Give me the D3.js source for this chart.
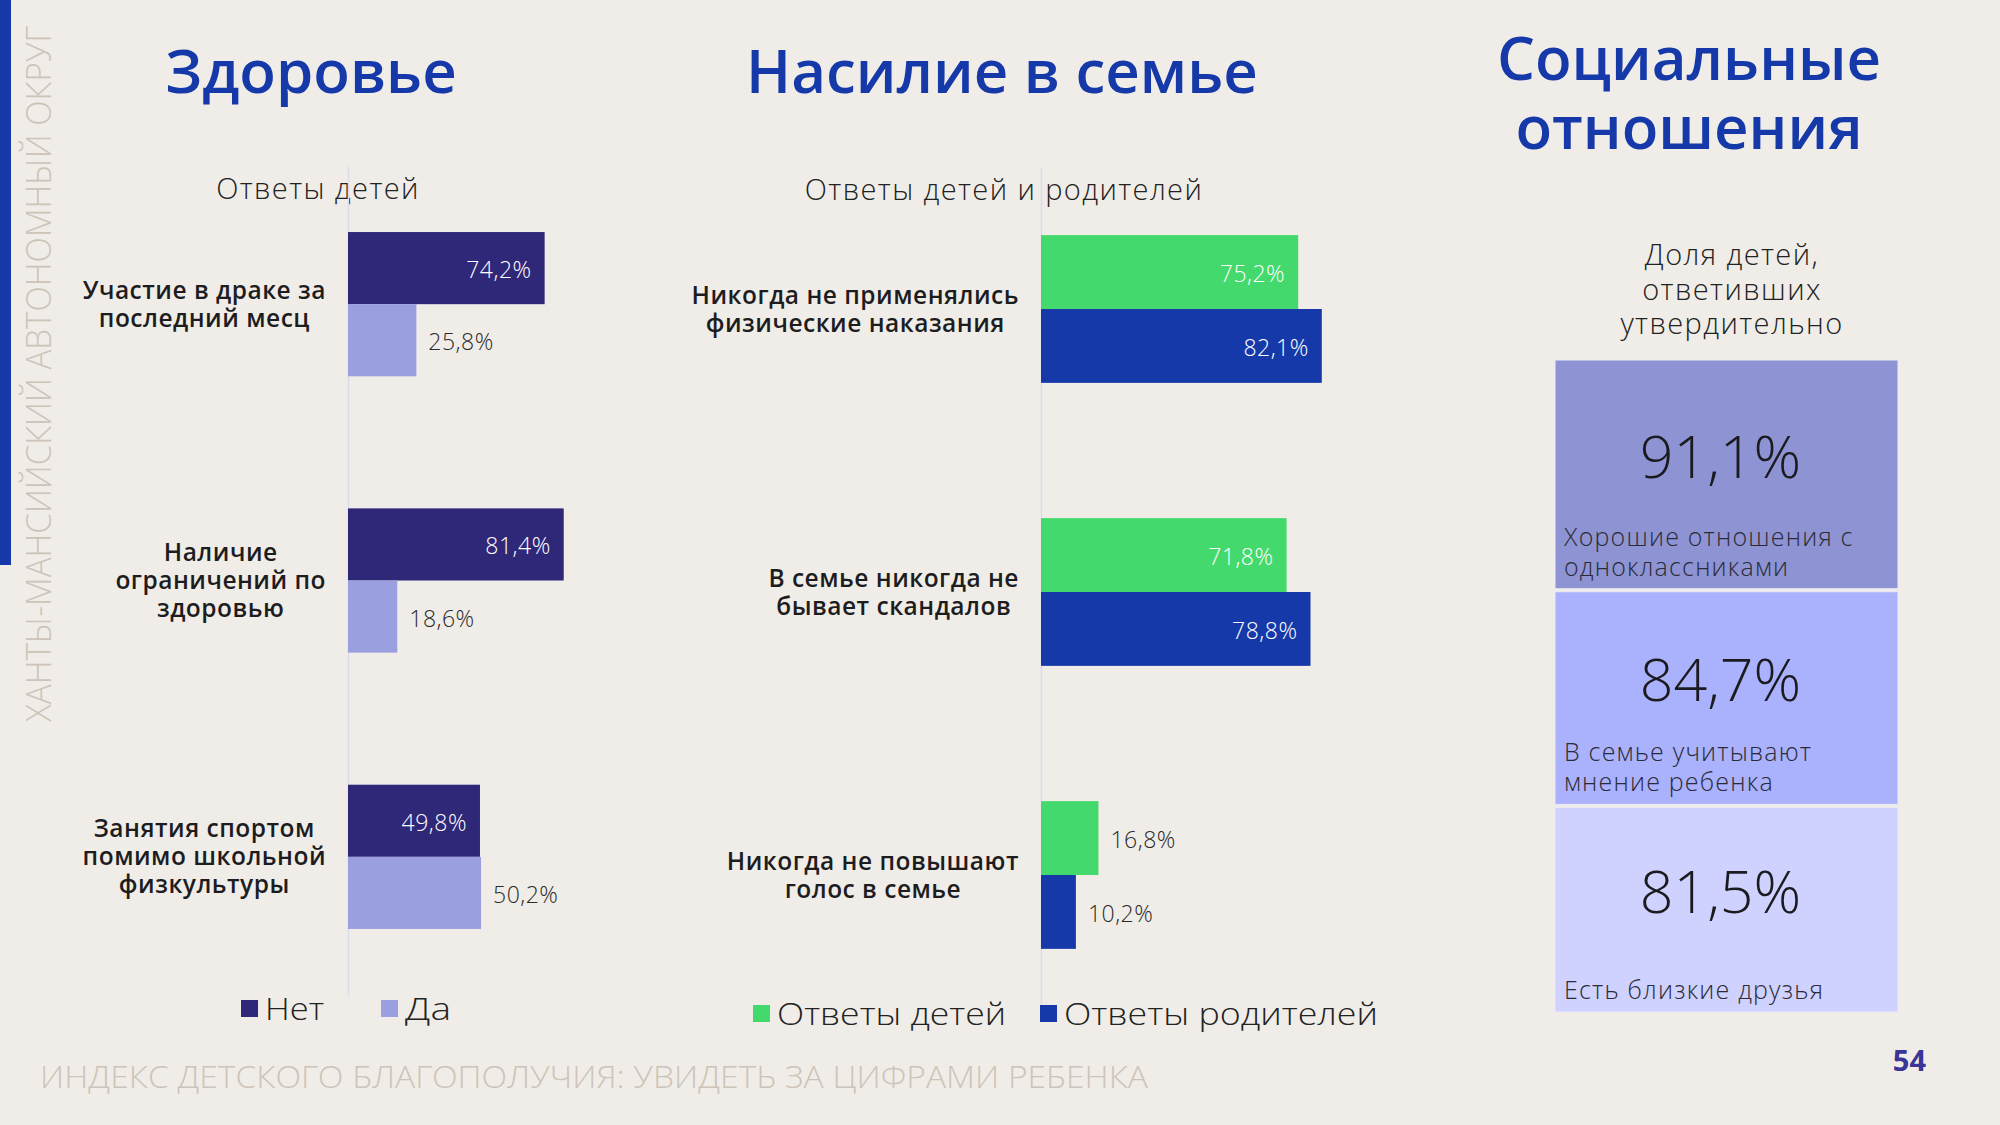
<!DOCTYPE html>
<html><head><meta charset="utf-8">
<script src="https://cdn.jsdelivr.net/npm/d3@7"></script>
<style>
html,body{margin:0;padding:0;background:#f0ede8;}
svg{display:block;}
text{font-family:"Open Sans","Noto Sans",sans-serif;}
</style></head><body>
<svg id="chart" width="2000" height="1125"></svg>
<script>
// ---------- DATA ----------
const healthCategories = ["Участие в драке за\nпоследний месц", "Наличие\nограничений по\nздоровью", "Занятия спортом\nпомимо школьной\nфизкультуры"];
const healthSeries = ["Нет", "Да"];
const healthNo = [74.2, 81.4, 49.8];
const healthYes = [25.8, 18.6, 50.2];

const violenceCategories = ["Никогда не применялись\nфизические наказания", "В семье никогда не\nбывает скандалов", "Никогда не повышают\nголос в семье"];
const violenceSeries = ["Ответы детей", "Ответы родителей"];
const violenceChildren = [75.2, 71.8, 16.8];
const violenceParents = [82.1, 78.8, 10.2];

const socialLabels = ["Хорошие отношения с\nодноклассниками", "В семье учитывают\nмнение ребенка", "Есть близкие друзья"];
const socialValues = [91.1, 84.7, 81.5];

const titles = ["Здоровье", "Насилие в семье", "Социальные\nотношения"];
const subtitles = ["Ответы детей", "Ответы детей и родителей", "Доля детей,\nответивших\nутвердительно"];
const sideText = "ХАНТЫ-МАНСИЙСКИЙ АВТОНОМНЫЙ ОКРУГ";
const footerText = "ИНДЕКС ДЕТСКОГО БЛАГОПОЛУЧИЯ: УВИДЕТЬ ЗА ЦИФРАМИ РЕБЕНКА";
const pageNumber = "54";

// ---------- DRAWING ----------
const W = 2000, H = 1125;
const BG = "#f0ede8", TITLE = "#1639a9";
const svg = d3.select("#chart");
const fmt = v => d3.format(".1f")(v).replace(".", ",") + "%";
const LIGHT = "300";

svg.append("rect").attr("width", W).attr("height", H).attr("fill", BG);
svg.append("rect").attr("x", 0).attr("y", 0).attr("width", 11).attr("height", 565).attr("fill", "#1539a8");

svg.append("text").attr("transform", "translate(51,722) rotate(-90)")
  .attr("font-size", 34).attr("font-weight", LIGHT).attr("fill", "#cdc4b9")
  .attr("textLength", 696).attr("lengthAdjust", "spacingAndGlyphs").text(sideText);

svg.append("text").attr("x", 40).attr("y", 1088).attr("font-size", 31).attr("font-weight", LIGHT)
  .attr("fill", "#cdc4b9").attr("textLength", 1108).attr("lengthAdjust", "spacingAndGlyphs").text(footerText);

svg.append("text").attr("x", 1926).attr("y", 1071).attr("text-anchor", "end").attr("font-size", 29)
  .attr("font-weight", 700).attr("fill", "#3a3597").text(pageNumber);

// titles
function multiText(x, y, str, lh, attrs) {
  const t = svg.append("text").attr("x", x).attr("y", y);
  Object.entries(attrs).forEach(([k, v]) => t.attr(k, v));
  str.split("\n").forEach((ln, i) => t.append("tspan").attr("x", x).attr("y", y + i * lh).text(ln));
  return t;
}
const titleAttrs = {"font-size": 60, "font-weight": 600, "fill": TITLE, "text-anchor": "middle"};
multiText(311, 93, titles[0], 69, titleAttrs);
multiText(1002, 93, titles[1], 69, titleAttrs);
multiText(1689, 80, titles[2], 69, titleAttrs);

const subAttrs = {"font-size": 29, "font-weight": LIGHT, "fill": "#222", "text-anchor": "middle", "letter-spacing": "1.4px"};
multiText(318, 199, subtitles[0], 35, subAttrs);
multiText(1004, 200, subtitles[1], 35, subAttrs);
multiText(1732, 265, subtitles[2], 34.5, subAttrs);

function barChart(cfg) {
  const g = svg.append("g");
  const x = d3.scaleLinear().domain([0, 100]).range(cfg.xRange);
  const y = d3.scaleBand().domain(cfg.categories).range(cfg.yRange).paddingInner(0.478).paddingOuter(0.239);
  const ys = d3.scaleBand().domain(cfg.series).range([0, y.bandwidth()]);
  const color = d3.scaleOrdinal().domain(cfg.series).range(cfg.colors);

  g.append("g").attr("transform", `translate(${x(0)},0)`)
    .call(d3.axisLeft(y).tickSize(0).tickFormat(""))
    .call(a => a.select(".domain").attr("stroke", "#dddbee").attr("stroke-width", 1.5));

  const rows = [];
  cfg.categories.forEach((c, i) => cfg.series.forEach((s, j) => {
    const v = cfg.values[j][i];
    rows.push({c, s, v, inside: cfg.inside(j, v)});
  }));

  g.selectAll("rect.bar").data(rows).join("rect").attr("class", "bar")
    .attr("x", x(0)).attr("y", d => y(d.c) + ys(d.s))
    .attr("width", d => x(d.v) - x(0)).attr("height", ys.bandwidth())
    .attr("fill", d => color(d.s));

  g.selectAll("text.val").data(rows).join("text").attr("class", "val")
    .attr("x", d => d.inside ? x(d.v) - 13 : x(d.v) + 12)
    .attr("y", d => y(d.c) + ys(d.s) + ys.bandwidth() / 2 + 2).attr("dy", "0.35em")
    .attr("text-anchor", d => d.inside ? "end" : "start")
    .attr("font-size", 23).attr("font-weight", LIGHT).attr("letter-spacing", "0.5px")
    .attr("fill", d => d.inside ? "#ffffff" : "#2a2a2a").text(d => fmt(d.v));

  const right = x(0) - 22;
  cfg.categories.forEach(c => {
    const lines = c.split("\n");
    const cy = y(c) + y.bandwidth() / 2;
    const t = g.append("text").attr("font-size", 24.5).attr("font-weight", 600).attr("letter-spacing", "0.5px")
      .attr("fill", "#1d1d1f").attr("text-anchor", "middle");
    const spans = lines.map((ln, k) => t.append("tspan").text(ln)
      .attr("y", cy + (k - (lines.length - 1) / 2) * 28).attr("dy", "0.35em"));
    const maxW = d3.max(spans, s => s.node().getComputedTextLength());
    spans.forEach(s => s.attr("x", right - maxW / 2));
  });

  // legend
  cfg.series.forEach((s, j) => {
    const L = cfg.legend[j];
    g.append("rect").attr("x", L[0]).attr("y", L[1]).attr("width", 17).attr("height", 17).attr("fill", color(s));
    g.append("text").attr("x", L[0] + 24).attr("y", L[1] + 20).attr("font-size", 32)
      .attr("font-weight", LIGHT).attr("fill", "#222").attr("textLength", L[2])
      .attr("lengthAdjust", "spacingAndGlyphs").text(s);
  });
}

barChart({
  categories: healthCategories, series: healthSeries, values: [healthNo, healthYes],
  colors: ["#2f2778", "#9a9fe0"], xRange: [348, 613], yRange: [166, 995],
  inside: (j, v) => j === 0,
  legend: [[241, 1000, 59], [381, 1000, 46]]
});

barChart({
  categories: violenceCategories, series: violenceSeries, values: [violenceChildren, violenceParents],
  colors: ["#44d96c", "#1539a8"], xRange: [1041, 1383], yRange: [167.5, 1016.5],
  inside: (j, v) => v > 30,
  legend: [[753, 1005, 229], [1040, 1005, 314]]
});

// social relations panel
(function () {
  const x0 = 1555, x1 = 1898, top = 360, gap = 3, total = 652;
  const h = d3.scaleLinear().domain([0, d3.sum(socialValues)]).range([0, total - gap * (socialValues.length - 1)]);
  let yy = top;
  const color = d3.scaleOrdinal().domain(socialLabels).range(["#8e94d3", "#aab1fd", "#cfd1fe"]);
  socialValues.forEach((v, i) => {
    const hh = h(v);
    svg.append("rect").attr("x", x0).attr("y", yy).attr("width", x1 - x0).attr("height", hh)
      .attr("fill", color(socialLabels[i])).attr("stroke", "#eceaf4").attr("stroke-width", 1);
    svg.append("text").attr("x", (x0 + x1) / 2 - 6).attr("y", yy + hh * 0.515).attr("text-anchor", "middle")
      .attr("font-size", 59).attr("font-weight", LIGHT).attr("fill", "#1b1b1f").text(fmt(v));
    const lines = socialLabels[i].split("\n");
    lines.forEach((ln, k) => svg.append("text").attr("x", x0 + 9)
      .attr("y", yy + hh - 13 - (lines.length - 1 - k) * 30)
      .attr("font-size", 25).attr("font-weight", LIGHT).attr("letter-spacing", "1.2px")
      .attr("fill", "#2b2b38").text(ln));
    yy += hh + gap;
  });
})();
</script>
</body></html>
